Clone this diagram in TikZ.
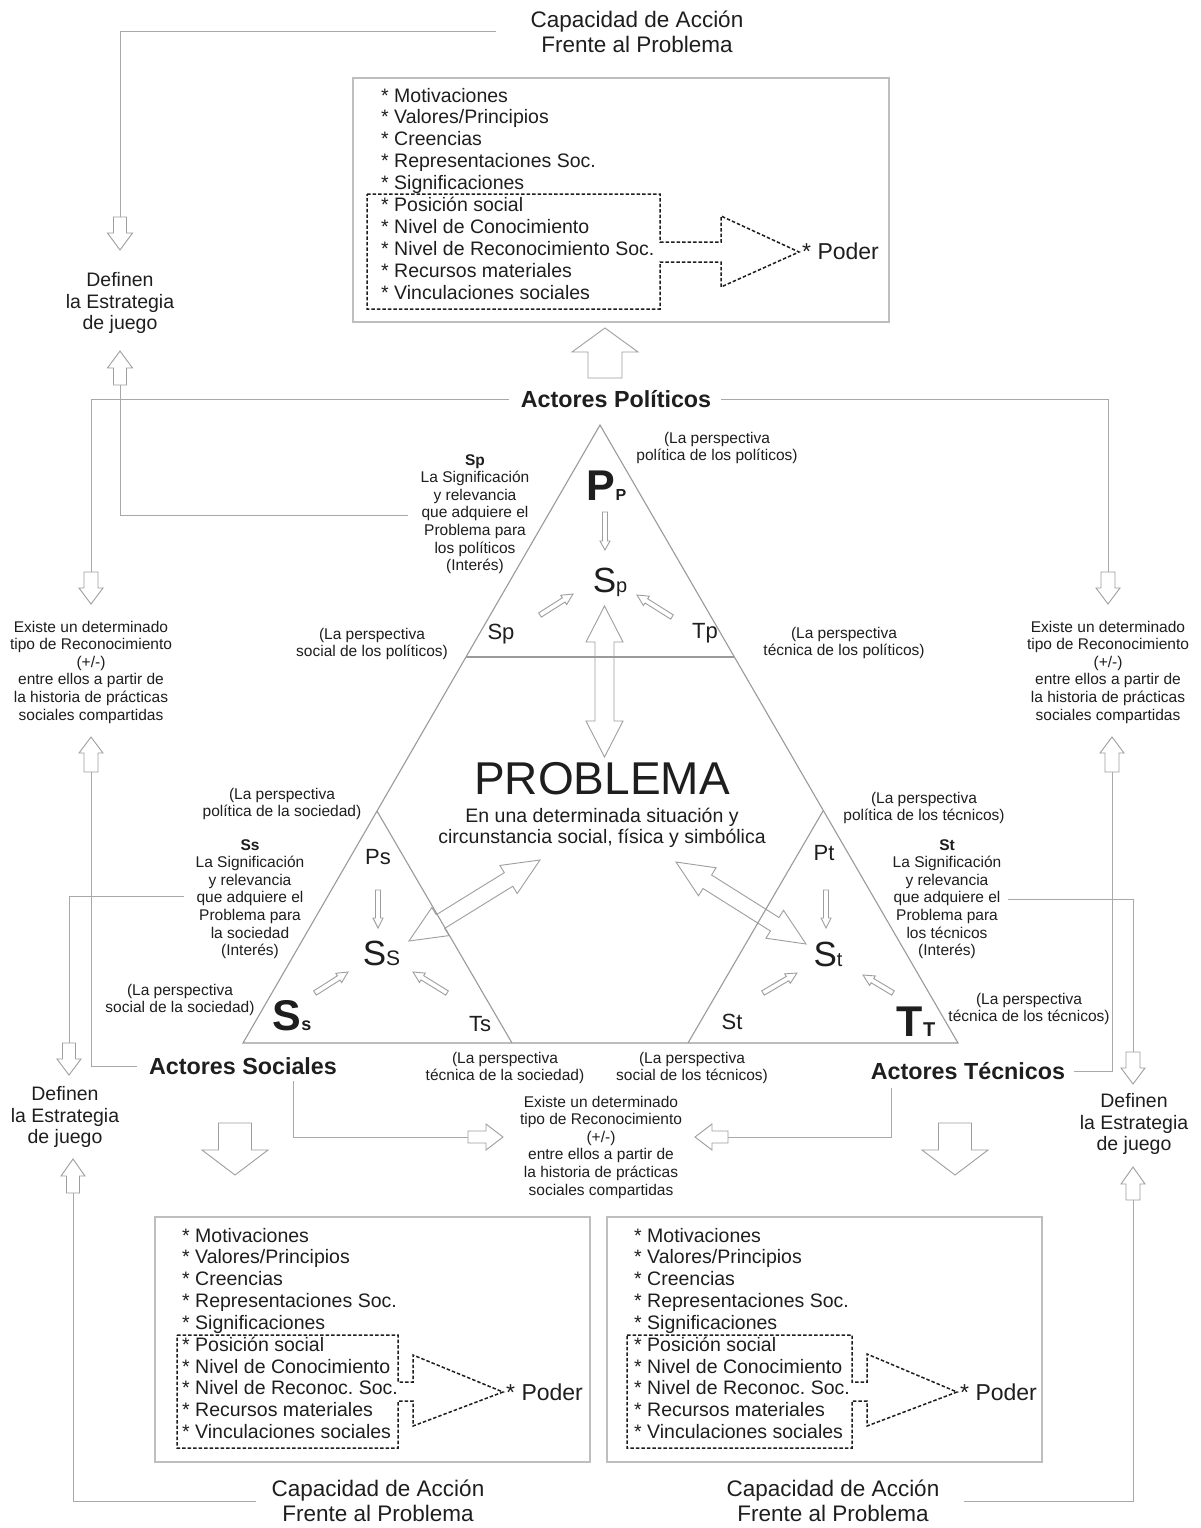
\documentclass[tikz,border=0pt]{standalone}
\usepackage{fontspec}
\setmainfont{Liberation Sans}
\usetikzlibrary{calc}
\frenchspacing
\definecolor{ink}{HTML}{1E1E1E}
\definecolor{linegray}{HTML}{A8A8A8}
\definecolor{trigray}{HTML}{9A9A9A}
\definecolor{arrgray}{HTML}{9E9E9E}
\definecolor{boxgray}{HTML}{BEBEBE}
% single hollow block arrow: x1,y1 (tail) x2,y2 (tip), shaft half width, head half width, head length
\newcommand\barrow[7]{%
  \pgfmathsetmacro\bang{atan2((#2)-(#4),(#3)-(#1))}%
  \pgfmathsetmacro\blen{veclen((#3)-(#1),(#4)-(#2))}%
  \pgfmathsetmacro\bbk{\blen-(#7)}%
  \draw[harrow,shift={(#1,#2)},rotate=\bang]
    (0pt,#5pt) -- (\bbk pt,#5pt) -- (\bbk pt,#6pt) -- (\blen pt,0pt)
    -- (\bbk pt,-#6pt) -- (\bbk pt,-#5pt) -- (0pt,-#5pt) -- cycle;}
% double hollow block arrow
\newcommand\dbarrow[7]{%
  \pgfmathsetmacro\bang{atan2((#2)-(#4),(#3)-(#1))}%
  \pgfmathsetmacro\blen{veclen((#3)-(#1),(#4)-(#2))}%
  \pgfmathsetmacro\bbk{\blen-(#7)}%
  \draw[harrow,shift={(#1,#2)},rotate=\bang]
    (0pt,0pt) -- (#7pt,#6pt) -- (#7pt,#5pt) -- (\bbk pt,#5pt) -- (\bbk pt,#6pt)
    -- (\blen pt,0pt) -- (\bbk pt,-#6pt) -- (\bbk pt,-#5pt) -- (#7pt,-#5pt)
    -- (#7pt,-#6pt) -- cycle;}
\tikzset{
  txt/.style={inner sep=0pt, text=ink, align=center},
  small/.style={txt, font=\fontsize{15.5}{17.6}\selectfont},
  mid/.style={txt, font=\fontsize{19.5}{21.6}\selectfont},
  captxt/.style={txt, font=\fontsize{22.5}{25}\selectfont},
  actor/.style={txt, font=\fontsize{23.3}{26}\selectfont\bfseries},
  lbl/.style={txt, font=\fontsize{22}{24}\selectfont},
  item/.style={inner sep=0pt, anchor=base west, text=ink, font=\fontsize{19.5}{22}\selectfont},
  poder/.style={inner sep=0pt, anchor=west, text=ink, font=\fontsize{23}{25}\selectfont},
  conn/.style={draw=linegray, line width=1pt},
  harrow/.style={draw=arrgray, fill=white, line width=0.9pt, line join=miter},
  tri/.style={draw=trigray, line width=1.1pt},
  box/.style={draw=boxgray, line width=1.2pt},
  dbox/.style={draw=ink, dash pattern=on 3.5pt off 2pt, line width=1.5pt, line join=miter},
}
\begin{document}
\begin{tikzpicture}[x=1pt,y=-1pt]
\fill[white] (0,0) rectangle (1200,1528);
\useasboundingbox (0,0) rectangle (1200,1528);

% ---------- boxes ----------
\draw[box] (353,78) rectangle (889,322);
\draw[box] (155,1217) rectangle (590,1462);
\draw[box] (607,1217) rectangle (1042,1462);

\foreach \t [count=\i from 0] in {Motivaciones,Valores/Principios,Creencias,Representaciones Soc.,Significaciones,Posición social,Nivel de Conocimiento,Nivel de Reconocimiento Soc.,Recursos materiales,Vinculaciones sociales}
  \node[item] (pl\i) at (381,{102+21.9*\i}) {* \t};
\foreach \t [count=\i from 0] in {Motivaciones,Valores/Principios,Creencias,Representaciones Soc.,Significaciones,Posición social,Nivel de Conocimiento,Nivel de Reconoc. Soc.,Recursos materiales,Vinculaciones sociales}
  \node[item] (sl\i) at (182,{1242+21.85*\i}) {* \t};
\foreach \t [count=\i from 0] in {Motivaciones,Valores/Principios,Creencias,Representaciones Soc.,Significaciones,Posición social,Nivel de Conocimiento,Nivel de Reconoc. Soc.,Recursos materiales,Vinculaciones sociales}
  \node[item] (tl\i) at (634,{1242+21.85*\i}) {* \t};

\draw[dbox] (367,194) -- (660,194) -- (660,242) -- (721,242) -- (721,216) -- (799,252)
  -- (721,287) -- (721,262) -- (660,262) -- (660,309) -- (367,309) -- cycle;
\draw[dbox] (177,1335) -- (398,1335) -- (398,1382) -- (413,1382) -- (413,1355) -- (503,1392)
  -- (413,1426) -- (413,1401) -- (398,1401) -- (398,1448) -- (177,1448) -- cycle;
\draw[dbox] (627,1335) -- (852,1335) -- (852,1382) -- (867,1382) -- (867,1354) -- (957,1392)
  -- (867,1426) -- (867,1401) -- (852,1401) -- (852,1448) -- (627,1448) -- cycle;
\node[poder] (podP) at (802,251) {* Poder};
\node[poder] (podS) at (506,1392) {* Poder};
\node[poder] (podT) at (960,1392) {* Poder};

% ---------- text nodes ----------
\node[captxt] (capT) at (637,32) {Capacidad de Acción\\Frente al Problema};
\node[captxt] (capBL) at (378,1501) {Capacidad de Acción\\Frente al Problema};
\node[captxt] (capBR) at (833,1501) {Capacidad de Acción\\Frente al Problema};

\node[mid] (defTL) at (120,303) {Definen\\la Estrategia\\de juego};
\node[mid] (defBL) at (65,1117) {Definen\\la Estrategia\\de juego};
\node[mid] (defBR) at (1134,1124) {Definen\\la Estrategia\\de juego};

\node[small] (existL) at (91,672) {Existe un determinado\\tipo de Reconocimiento\\(+/-)\\entre ellos a partir de\\la historia de prácticas\\sociales compartidas};
\node[small] (existR) at (1108,672) {Existe un determinado\\tipo de Reconocimiento\\(+/-)\\entre ellos a partir de\\la historia de prácticas\\sociales compartidas};
\node[small] (existC) at (601,1147) {Existe un determinado\\tipo de Reconocimiento\\(+/-)\\entre ellos a partir de\\la historia de prácticas\\sociales compartidas};

\node[actor] (actP) at (616,399) {Actores Políticos};
\node[actor] (actS) at (243,1066) {Actores Sociales};
\node[actor] (actT) at (968,1071) {Actores Técnicos};

\node[small] (pPP) at (717,448) {(La perspectiva\\política de los políticos)};
\node[small] (pSP) at (372,644) {(La perspectiva\\social de los políticos)};
\node[small] (pTP) at (844,643) {(La perspectiva\\técnica de los políticos)};
\node[small] (pPS) at (282,804) {(La perspectiva\\política de la sociedad)};
\node[small] (pSS) at (180,1000) {(La perspectiva\\social de la sociedad)};
\node[small] (pTS) at (505,1068) {(La perspectiva\\técnica de la sociedad)};
\node[small] (pST) at (692,1068) {(La perspectiva\\social de los técnicos)};
\node[small] (pPT) at (924,808) {(La perspectiva\\política de los técnicos)};
\node[small] (pTT) at (1029,1009) {(La perspectiva\\técnica de los técnicos)};

\node[small] (dSp) at (475,514) {\textbf{Sp}\\La Significación\\y relevancia\\que adquiere el\\Problema para\\los políticos\\(Interés)};
\node[small] (dSs) at (250,899) {\textbf{Ss}\\La Significación\\y relevancia\\que adquiere el\\Problema para\\la sociedad\\(Interés)};
\node[small] (dSt) at (947,899) {\textbf{St}\\La Significación\\y relevancia\\que adquiere el\\Problema para\\los técnicos\\(Interés)};

\node[txt, font=\fontsize{46}{48}\selectfont] (prob) at (602,779) {PROBLEMA};
\node[mid] (probSub) at (602,828) {En una determinada situación y\\circunstancia social, física y simbólica};

\node[txt, anchor=base] (bigP) at (606.5,500) {\fontsize{43}{43}\selectfont\bfseries P\fontsize{16}{16}\selectfont P};
\node[txt, anchor=base] (cSp) at (610,592) {\fontsize{35}{35}\selectfont S\fontsize{20}{20}\selectfont p};
\node[txt, anchor=base] (cSs) at (381.5,965) {\fontsize{35}{35}\selectfont S\fontsize{21}{21}\selectfont S};
\node[txt, anchor=base] (cSt) at (828,966) {\fontsize{35}{35}\selectfont S\fontsize{20}{20}\selectfont t};
\node[txt, anchor=base] (bigS) at (292,1030) {\fontsize{43}{43}\selectfont\bfseries S\fontsize{18}{18}\selectfont s};
\node[txt, anchor=base] (bigT) at (916,1036) {\fontsize{43}{43}\selectfont\bfseries T\fontsize{20}{20}\selectfont T};

\node[lbl] (lSp) at (501,634) {Sp};
\node[lbl] (lTp) at (705,633) {Tp};
\node[lbl] (lPs) at (378,857) {Ps};
\node[lbl] (lTs) at (480,1024) {Ts};
\node[lbl] (lPt) at (824,853) {Pt};
\node[lbl] (lSt) at (732,1022) {St};

% ---------- block arrows ----------
\barrow{605}{378}{605}{328}{17}{33}{24}
\barrow{235}{1123}{235}{1175}{16.5}{33}{25}
\barrow{955}{1123}{955}{1175}{16.5}{33}{25}

\barrow{120}{217}{120}{250}{6.5}{12.5}{17}
\barrow{120}{385}{120}{351}{6.5}{12.5}{17}
\barrow{91}{572}{91}{604}{7}{12}{16}
\barrow{1108}{572}{1108}{604}{7}{12}{16}
\barrow{91}{772}{91}{737}{7}{12}{16}
\barrow{1112}{772}{1112}{737}{7}{12}{16}
\barrow{69}{1043}{69}{1075}{6.5}{12}{16}
\barrow{73}{1193}{73}{1159}{6.5}{12}{17}
\barrow{1133}{1052}{1133}{1084}{7}{12}{16}
\barrow{1133}{1200}{1133}{1167}{7}{12}{17}
\barrow{468}{1137}{503}{1137}{6}{13}{17}
\barrow{728}{1137}{695}{1137}{6}{13}{17}

\barrow{605}{512}{605}{550}{2.5}{5}{9}
\barrow{378}{890}{378}{928}{2.5}{5}{10}
\barrow{826}{890}{826}{928}{2.5}{5}{10}
\barrow{540}{615}{573}{594}{2.5}{5.5}{11}
\barrow{672}{617}{637}{595}{2.5}{5.5}{11}
\barrow{315}{993}{348}{972}{2.5}{5.5}{11}
\barrow{447}{993}{413}{972}{2.5}{5.5}{11}
\barrow{763}{993}{797}{973}{2.5}{5.5}{11}
\barrow{893}{993}{863}{975}{2.5}{5.5}{11}

\dbarrow{604.5}{757}{604.5}{606}{9.5}{18.5}{36}
\dbarrow{409}{941}{540}{860}{8}{16.5}{37}
\dbarrow{806}{944}{676}{862}{8}{16.5}{37}

% ---------- triangle ----------
\coordinate (tA) at (600,425);
\coordinate (tL) at (243,1043);
\coordinate (tR) at (958,1043);
\draw[tri] (tA) -- (tL) -- (tR) -- cycle;
\draw[tri] (466,657) -- (734,657);
\draw[tri] (377,811) -- (512,1043);
\draw[tri] (823,811) -- (688,1043);

% ---------- connectors ----------
\coordinate (tlA) at (120,217);
\coordinate (tlB) at (120,385);
\coordinate (lA) at (91,572);
\coordinate (rA) at (1108,572);
\coordinate (lB) at (91,772);
\coordinate (rB) at (1112,772);
\coordinate (lC) at (69,1043);
\coordinate (lD) at (73,1193);
\coordinate (rC) at (1133,1052);
\coordinate (rD) at (1133,1200);
\coordinate (cA) at (468,1137);
\coordinate (cB) at (728,1137);

\draw[conn] ([xshift=-34pt]capT.west) -| (tlA);
\draw[conn] (tlB) |- ([xshift=-13pt,yshift=-1pt]dSp.west);
\draw[conn] ([xshift=-12pt]actP.west) -| (lA);
\draw[conn] ([xshift=10pt]actP.east) -| (rA);
\draw[conn] ([xshift=-12pt]actS.west) -| (lB);
\draw[conn] ([xshift=-12pt,yshift=2.5pt]dSs.west) -| (lC);
\draw[conn] (lD) |- ([xshift=-15pt]capBL.west);
\draw[conn] ([xshift=50pt,yshift=-6pt]actS.south) |- (cA);
\draw[conn] ([xshift=9pt]actT.east) -| (rB);
\draw[conn] ([xshift=7pt]dSt.east) -| (rC);
\draw[conn] (rD) |- ([xshift=24pt]capBR.east);
\draw[conn] ([xshift=-77pt,yshift=-8pt]actT.south) |- (cB);
\end{tikzpicture}
\end{document}
